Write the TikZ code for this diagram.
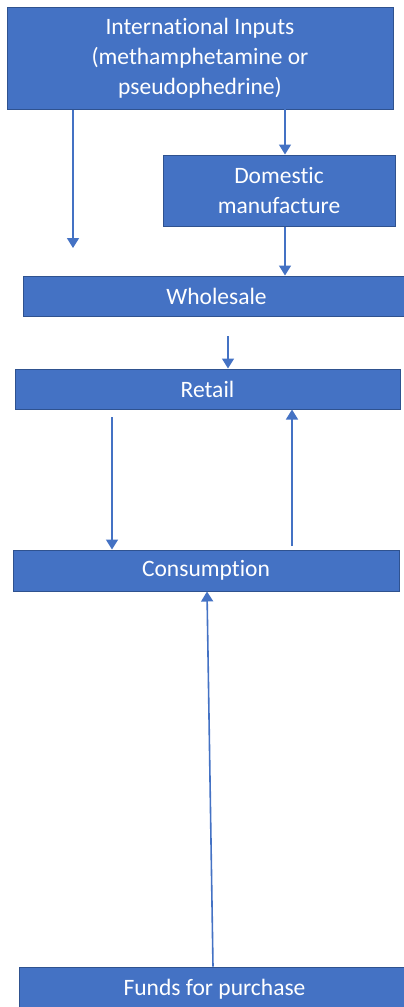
\documentclass[tikz,border=0pt]{standalone}
\usepackage{fontspec}
\setmainfont{Carlito}[Ligatures={NoCommon},RawFeature={-liga;-dlig;-clig}]
\usetikzlibrary{arrows.meta}
\definecolor{boxfill}{HTML}{4472C4}
\definecolor{boxline}{HTML}{2F528F}
\definecolor{arrowc}{HTML}{4472C4}
\begin{document}
\begin{tikzpicture}[x=1pt,y=-1pt,
  box/.style={draw=boxline,line width=1pt,fill=boxfill,text=white,inner sep=0pt,
    font=\fontsize{23.5}{30}\selectfont,align=center,anchor=center},
  conn/.style={draw=arrowc,line width=1.6pt,-{Triangle[width=12pt,length=10pt]}}]
\useasboundingbox (0,0) rectangle (404,1007);
\node[box,minimum width=386pt,minimum height=102pt] (intl) at (200,58)
  {International Inputs\\(methamphetamine or\\pseudophedrine)};
\node[box,minimum width=232pt,minimum height=71pt] (dom) at (279,190.5)
  {Domestic\\manufacture};
\node[box,minimum width=387pt,minimum height=40pt] (whole) at (216.5,296) {Wholesale};
\node[box,minimum width=385pt,minimum height=40pt] (retail) at (207.5,389) {Retail};
\node[box,minimum width=386pt,minimum height=41pt] (cons) at (206,570.5) {Consumption};
\node[box,minimum width=391pt,minimum height=45pt] (funds) at (214.5,989.5) {Funds for purchase};
\coordinate (lend) at (73,248);
\coordinate (wstart) at (228,336);
\coordinate (rstart) at (112,417);
\coordinate (cstart) at (292,546);
\draw[conn] (intl.south -| lend) -- (lend);
\draw[conn] (285,109) coordinate (ia) -- (ia |- dom.north);
\draw[conn] (dom.south -| ia) -- (ia |- whole.north);
\draw[conn] (wstart) -- (wstart |- retail.north);
\draw[conn] (rstart) -- (rstart |- cons.north);
\draw[conn] (cstart) -- (cstart |- retail.south);
\draw[conn] (funds.north -| 213,0) -- (cons.south -| 207,0);
\end{tikzpicture}
\end{document}
